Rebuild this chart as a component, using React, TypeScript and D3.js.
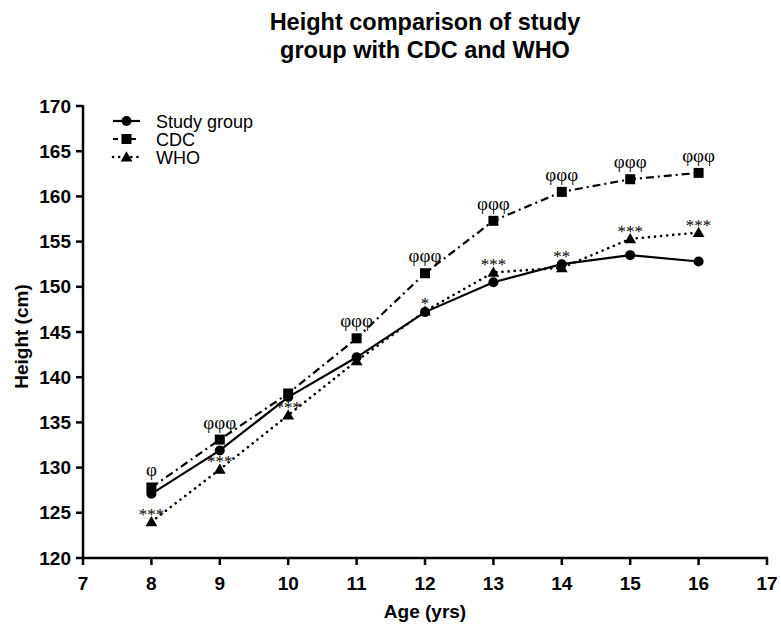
import React from "react";
import * as d3 from "d3";

const ages = [8, 9, 10, 11, 12, 13, 14, 15, 16];
const studyGroup = [127.1, 131.9, 137.8, 142.2, 147.2, 150.5, 152.5, 153.5, 152.8];
const cdc = [127.8, 133.1, 138.2, 144.3, 151.5, 157.3, 160.5, 161.9, 162.6];
const who = [124.0, 129.8, 135.8, 141.8, 147.3, 151.6, 152.1, 155.3, 156.0];
const cdcMarks = ["φ", "φφφ", "", "φφφ", "φφφ", "φφφ", "φφφ", "φφφ", "φφφ"];
const whoMarks = ["***", "***", "***", "", "*", "***", "**", "***", "***"];
const xTicks = [7, 8, 9, 10, 11, 12, 13, 14, 15, 16, 17];
const yTicks = [120, 125, 130, 135, 140, 145, 150, 155, 160, 165, 170];
const legendLabels = ["Study group", "CDC", "WHO"];

const W = 781;
const H = 632;
const sans = "'Liberation Sans', Arial, sans-serif";
const serif = "'Liberation Serif', 'Times New Roman', serif";

export default function App() {
  const x = d3.scaleLinear().domain([7, 17]).range([83, 767]);
  const y = d3.scaleLinear().domain([120, 170]).range([558, 106]);
  const line = (vals: number[]) =>
    d3
      .line<number>()
      .x((_, i) => x(ages[i]))
      .y((v) => y(v))(vals) as string;

  const styles = [
    { dash: undefined as string | undefined, cap: "butt" },
    { dash: "8 4 2 4", cap: "butt" },
    { dash: "0.1 6", cap: "round" },
  ];
  const series = [studyGroup, cdc, who];

  const marker = (kind: number, cx: number, cy: number, key: string) => {
    if (kind === 0) return <circle key={key} cx={cx} cy={cy} r={5} fill="#000" />;
    if (kind === 1)
      return <rect key={key} x={cx - 5} y={cy - 5} width={10} height={10} fill="#000" />;
    const tri = d3.symbol(d3.symbolTriangle, 60)() as string;
    return <path key={key} d={tri} transform={`translate(${cx},${cy + 1})`} fill="#000" />;
  };

  const starY = (i: number) => {
    const top = Math.abs(studyGroup[i] - who[i]) < 1 ? Math.max(studyGroup[i], who[i]) : who[i];
    return y(top) - 2;
  };

  return (
    <svg width={W} height={H} style={{ display: "block", position: "absolute", left: 0, top: 0 }}>
      <rect width={W} height={H} fill="#fff" />
      <text x={425} y={30} textAnchor="middle" fontFamily={sans} fontWeight="bold" fontSize={23.5} fill="#000">
        Height comparison of study
      </text>
      <text x={425} y={58} textAnchor="middle" fontFamily={sans} fontWeight="bold" fontSize={23.5} fill="#000">
        group with CDC and WHO
      </text>

      {/* axes */}
      <g stroke="#000" strokeWidth={2.5}>
        <line x1={83} y1={105} x2={83} y2={559} />
        <line x1={82} y1={558} x2={768} y2={558} />
        {yTicks.map((t) => (
          <line key={"yt" + t} x1={76} x2={83} y1={y(t)} y2={y(t)} />
        ))}
        {xTicks.map((t) => (
          <line key={"xt" + t} x1={x(t)} x2={x(t)} y1={558} y2={565} />
        ))}
      </g>
      {yTicks.map((t) => (
        <text key={"yl" + t} x={71} y={y(t) + 6.5} textAnchor="end" fontFamily={sans} fontWeight="bold" fontSize={19} fill="#000">
          {t}
        </text>
      ))}
      {xTicks.map((t) => (
        <text key={"xl" + t} x={x(t)} y={590} textAnchor="middle" fontFamily={sans} fontWeight="bold" fontSize={19} fill="#000">
          {t}
        </text>
      ))}
      <text x={425} y={618} textAnchor="middle" fontFamily={sans} fontWeight="bold" fontSize={19} fill="#000">
        Age (yrs)
      </text>
      <text
        transform={`translate(28,${y(144.5)}) rotate(-90)`}
        textAnchor="middle"
        fontFamily={sans}
        fontWeight="bold"
        fontSize={19}
        fill="#000"
      >
        Height (cm)
      </text>

      {/* lines */}
      {series.map((s, k) => (
        <path
          key={"l" + k}
          d={line(s)}
          fill="none"
          stroke="#000"
          strokeWidth={k === 2 ? 2.6 : 2.2}
          strokeDasharray={styles[k].dash}
          strokeLinecap={styles[k].cap as any}
        />
      ))}
      {[0, 2, 1].map((k) =>
        series[k].map((v, i) => marker(k, x(ages[i]), y(v), `m${k}-${i}`))
      )}

      {/* annotations */}
      <g opacity={0.99}>
        {cdcMarks.map((m, i) =>
          m ? (
            <text key={"c" + i} x={x(ages[i])} y={y(cdc[i]) - 11} textAnchor="middle" fontFamily={serif} fontSize={19} fill="#000">
              {m}
            </text>
          ) : null
        )}
        {whoMarks.map((m, i) =>
          m ? (
            <text key={"w" + i} x={x(ages[i])} y={starY(i)} textAnchor="middle" fontFamily={serif} fontSize={17} fill="#000">
              {m}
            </text>
          ) : null
        )}
      </g>

      {/* legend */}
      {legendLabels.map((lab, k) => {
        const ly = 121 + k * 18;
        return (
          <g key={"lg" + k}>
            <line
              x1={113}
              x2={140}
              y1={ly}
              y2={ly}
              stroke="#000"
              strokeWidth={k === 2 ? 2.6 : 2.2}
              strokeDasharray={k === 1 ? "5 4" : k === 2 ? "0.1 6" : undefined}
              strokeLinecap={styles[k].cap as any}
            />
            {marker(k, 126.5, ly, "lm" + k)}
            <text x={156} y={ly + 6.5} fontFamily={sans} fontSize={18} fill="#000">
              {lab}
            </text>
          </g>
        );
      })}
    </svg>
  );
}
